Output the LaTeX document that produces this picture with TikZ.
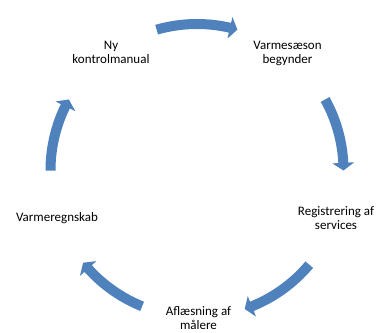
\documentclass[tikz,border=0pt]{standalone}
\usepackage{fontspec}
\setmainfont{Carlito}
\definecolor{arrowblue}{HTML}{4F81BD}
\newcommand\cycarrow[3]{%
  \fill[arrowfill] ([shift={(#1:151.5pt)}]C) arc[start angle=#1, end angle=#2, radius=151.5pt]
    -- ([shift={(#2:157.5pt)}]C) -- ([shift={(#3:146.5pt)}]C) -- ([shift={(#2:135.5pt)}]C)
    -- ([shift={(#2:141.5pt)}]C) arc[start angle=#2, end angle=#1, radius=141.5pt] -- cycle;}
\begin{document}
\begin{tikzpicture}[x=1pt,y=1pt,
  arrowfill/.style={fill=arrowblue},
  lbl/.style={align=center, inner sep=0pt, font=\fontsize{13}{14}\selectfont}]
\useasboundingbox (0,0) rectangle (379,332);
\coordinate (C) at (197,161.5);
\cycarrow{106}{77}{74}
\cycarrow{29}{3}{0}
\cycarrow{-40}{-68}{-71}
\cycarrow{-112}{-138}{-141}
\cycarrow{180}{154}{151}
\node[lbl] (ny) at (111,280) {Ny\\kontrolmanual};
\node[lbl] (vs) at (287.5,279) {Varmesæson\\begynder};
\node[lbl] (reg) at (336,113.5) {Registrering af\\services};
\node[lbl] (afl) at (198.5,14) {Aflæsning af\\målere};
\node[lbl] (vr) at (57,114) {Varmeregnskab};
\end{tikzpicture}
\end{document}
